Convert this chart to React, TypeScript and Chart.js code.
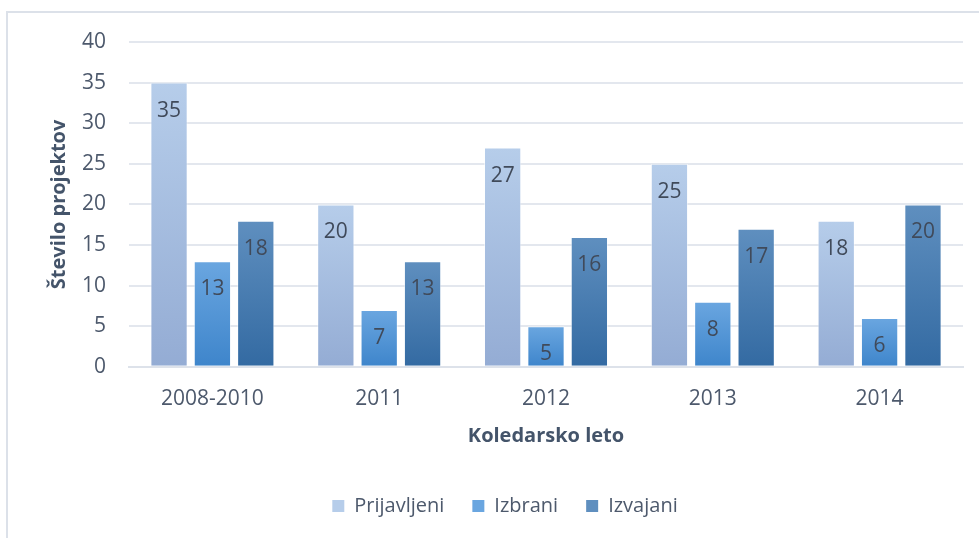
import React, { useEffect, useRef } from "react";
import { Chart, registerables } from "chart.js";

Chart.register(...registerables);

const categories = ["2008-2010", "2011", "2012", "2013", "2014"];
const prijavljeni = [35, 20, 27, 25, 18];
const izbrani = [13, 7, 5, 8, 6];
const izvajani = [18, 13, 16, 17, 20];
const seriesNames = ["Prijavljeni", "Izbrani", "Izvajani"];
const yTicks = [0, 5, 10, 15, 20, 25, 30, 35, 40];

const gradients: [string, string][] = [
  ["#b6cdea", "#94acd4"],
  ["#6aa6e0", "#3e85cb"],
  ["#5f8fbf", "#336aa2"],
];

const FONT = "'Open Sans', 'DejaVu Sans', sans-serif";
const TEXT = "#4d596c";
const TITLE = "#44546a";

function gradFor(idx: number) {
  return (ctx: any) => {
    const chart = ctx.chart;
    const area = chart.chartArea;
    const [top, bottom] = gradients[idx];
    if (!area || ctx.raw === undefined) return top;
    const y = chart.scales.y;
    const yTop = y.getPixelForValue(ctx.raw);
    const yBot = y.getPixelForValue(0);
    const g = chart.ctx.createLinearGradient(0, yTop, 0, yBot);
    g.addColorStop(0, top);
    g.addColorStop(1, bottom);
    return g;
  };
}

const labelPlugin = {
  id: "barLabels",
  afterDatasetsDraw(chart: any) {
    const c = chart.ctx;
    c.save();
    c.font = `21px ${FONT}`;
    c.fillStyle = "#404a5a";
    c.textAlign = "center";
    c.textBaseline = "middle";
    chart.data.datasets.forEach((ds: any, i: number) => {
      const meta = chart.getDatasetMeta(i);
      meta.data.forEach((bar: any, j: number) => {
        c.fillText(String(ds.data[j]), bar.x, bar.y + 28);
      });
    });
    c.restore();
  },
};

export default function App() {
  const ref = useRef<HTMLCanvasElement>(null);
  useEffect(() => {
    if (!ref.current) return;
    const series = [prijavljeni, izbrani, izvajani];
    const chart = new Chart(ref.current, {
      type: "bar",
      data: {
        labels: categories,
        datasets: series.map((d, i) => ({
          label: seriesNames[i],
          data: d,
          backgroundColor: gradFor(i),
          borderColor: "rgba(255,255,255,0.5)",
          borderWidth: 1,
          categoryPercentage: 0.78,
          barPercentage: 0.86,
        })),
      },
      options: {
        animation: false,
        responsive: false,
        maintainAspectRatio: false,
        layout: { padding: { top: 42, right: 16, bottom: 12, left: 47 } },
        plugins: {
          tooltip: { enabled: false },
          legend: {
            position: "bottom",
            labels: {
              font: { family: FONT, size: 20 },
              color: TEXT,
              boxWidth: 12,
              boxHeight: 12,
              padding: 28,
              generateLabels: (ch: any) =>
                ch.data.datasets.map((ds: any, i: number) => ({
                  text: ds.label,
                  fillStyle: gradients[i][0],
                  strokeStyle: gradients[i][1],
                  lineWidth: 0,
                  fontColor: TEXT,
                  datasetIndex: i,
                })),
            },
          },
        },
        scales: {
          x: {
            grid: { display: false },
            border: { display: true, color: "#dde2ea", width: 2 },
            ticks: { font: { family: FONT, size: 21 }, color: TEXT, padding: 12 },
            title: {
              display: true,
              text: "Koledarsko leto",
              font: { family: FONT, size: 20, weight: "bold" },
              color: TITLE,
              padding: { top: 0, bottom: 20 },
            },
          },
          y: {
            min: 0,
            max: 40,
            afterBuildTicks: (s: any) => {
              s.ticks = yTicks.map((v) => ({ value: v }));
            },
            grid: { color: "#e3e7ee", lineWidth: 2, drawTicks: false },
            border: { display: false },
            ticks: { font: { family: FONT, size: 21 }, color: TEXT, padding: 23 },
            title: {
              display: true,
              text: "Število projektov",
              font: { family: FONT, size: 20, weight: "bold" },
              color: TITLE,
              padding: { top: 0, bottom: -12 },
            },
          },
        },
      },
      plugins: [labelPlugin],
    });
    return () => chart.destroy();
  }, []);

  return (
    <div style={{ position: "fixed", left: 0, top: 0, width: 979, height: 538, background: "#fff", overflow: "hidden" }}>
      <div
        style={{
          position: "absolute",
          left: 6,
          top: 11,
          width: 1000,
          height: 600,
          border: "2px solid #dce1e9",
          boxSizing: "border-box",
        }}
      />
      <canvas ref={ref} width={979} height={538} style={{ position: "absolute", left: 0, top: 0 }} />
    </div>
  );
}
